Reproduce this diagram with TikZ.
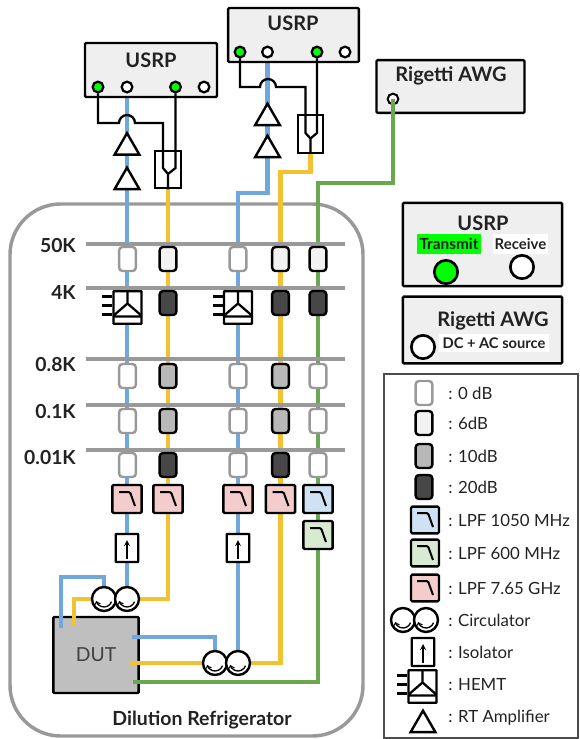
\documentclass[tikz,border=0pt]{standalone}
\usepackage{fontspec}
\setmainfont{Lato}
\usetikzlibrary{shapes.geometric}
\pgfdeclarelayer{back}
\pgfdeclarelayer{wires}
\pgfsetlayers{back,wires,main}
\definecolor{cableblue}{HTML}{6FA8DC}
\definecolor{cableyellow}{HTML}{F1C232}
\definecolor{cablegreen}{HTML}{6AA84F}
\definecolor{lpfpink}{HTML}{F4CCCC}
\definecolor{lpfblue}{HTML}{CFE2F3}
\definecolor{lpfgreen}{HTML}{D9EAD3}
\definecolor{panelgray}{HTML}{EFEFEF}
\definecolor{stagegray}{HTML}{999999}
\definecolor{inkgray}{HTML}{222222}
\tikzset{
instrument/.style={draw=black,fill=panelgray,line width=1.8pt,rounded corners=0.8pt,inner sep=0pt},
port/.style={circle,draw=black,fill=white,line width=1.7pt,minimum size=8pt,inner sep=0pt},
txport/.style={port,fill=green},
bigport/.style={port,minimum size=17.5pt,line width=2pt},
blueline/.style={cableblue,line width=3.6pt},
yellowline/.style={cableyellow,line width=3.6pt},
greenline/.style={cablegreen,line width=3.6pt},
blackline/.style={black,line width=1.7pt},
stage/.style={stagegray,line width=3pt},
stagelabel/.style={anchor=east,inner sep=0pt,text=inkgray,font=\bfseries\fontsize{14.5}{16}\selectfont},
heading/.style={inner sep=0pt,text=inkgray,font=\bfseries\fontsize{15}{17}\selectfont},
att/.style={rectangle,rounded corners=2.5pt,line width=1.8pt,minimum width=12.5pt,minimum height=18pt,inner sep=0pt},
attzero/.style={att,draw=stagegray,fill=white},
attsix/.style={att,draw=black,fill=black!5},
attten/.style={att,draw=black,fill=black!28},
atttwenty/.style={att,draw=black,fill=black!72},
lpf/.style={rectangle,draw=black,line width=1.8pt,rounded corners=1pt,minimum width=22pt,minimum height=21pt,inner sep=0pt,
path picture={\draw[black,line width=1.5pt,shift={(path picture bounding box.center)}] (-8,-7) -- (3,-7) -- (8,7);}},
isolator/.style={rectangle,draw=black,fill=white,line width=1.7pt,rounded corners=0.5pt,minimum width=17pt,minimum height=21pt,inner sep=0pt,
path picture={\draw[black,line width=1pt,-stealth,shift={(path picture bounding box.center)}] (0,11) -- (0,-8);}},
circulator/.style={circle,draw=black,fill=white,line width=1.8pt,minimum size=18pt,inner sep=0pt,
path picture={\draw[black,line width=1pt,->,shift={(path picture bounding box.center)}] (20:8) arc[start angle=20,end angle=165,radius=8];}},
amp/.style={regular polygon,regular polygon sides=3,draw=black,fill=white,line width=1.8pt,minimum size=21.5pt,inner sep=0pt},
splitter/.style={rectangle,draw=black,fill=white,line width=1.7pt,minimum width=19pt,minimum height=28pt,inner sep=0pt},
hemt/.style={rectangle,draw=black,fill=white,line width=1.7pt,rounded corners=0.5pt,minimum width=21pt,minimum height=24.5pt,inner sep=0pt,
path picture={\draw[black,line width=1.7pt,shift={(path picture bounding box.center)}] (0,-17) -- (0,-4) (-15,9) -- (0,-4) -- (15,9) (-15,9) -- (15,9);}},
legendtext/.style={anchor=west,inner sep=0pt,text=inkgray,font=\fontsize{12.6}{15}\selectfont}
}
\newcommand{\hemtstubs}[1]{\draw[blackline] (#1.west) ++(-10,-11) -- ++(10,0) ++(-10,9) -- ++(10,0) ++(-10,9) -- ++(10,0);}
\begin{document}
\begin{tikzpicture}[x=0.75pt,y=-0.75pt]
\useasboundingbox (0,0) rectangle (580,739);
\begin{pgfonlayer}{back}
\draw[stagegray,line width=2.6pt,rounded corners=38pt] (10,204) rectangle (363,736);
\node[rectangle,draw=black,fill=black!25,line width=1.8pt,rounded corners=0.8pt,minimum width=64pt,minimum height=57pt,inner sep=0pt,text=black!75,font=\fontsize{14.5}{16}\selectfont] (dut) at (96,655) {DUT};
\node[instrument,minimum width=111pt,minimum height=39.5pt] (awg) at (450.5,86.5) {};
\node[port,line width=1.5pt,minimum width=8pt,minimum height=6pt] (awgport) at (393,99) {};
\end{pgfonlayer}
\node[instrument,minimum width=99pt,minimum height=40.5pt] (usrpa) at (151,70) {};
\node[heading] (usrpatext) at (151,60) {USRP};
\node[txport] (txaa) at (98,87) {};
\node[port] (rxaa) at (127,87) {};
\node[txport] (txab) at (175.5,87) {};
\node[port] (rxab) at (204,87) {};
\node[instrument,minimum width=98pt,minimum height=40.5pt] (usrpb) at (293.5,35) {};
\node[heading] (usrpbtext) at (293,23) {USRP};
\node[txport] (txba) at (240,52) {};
\node[port] (rxba) at (267.5,52) {};
\node[txport] (txbb) at (317,52) {};
\node[port] (rxbb) at (345,52) {};
\node[heading] (awgtext) at (451,76) {Rigetti AWG};
\node[amp] (ampaa) at (127,147.5) {};
\node[amp] (ampab) at (127,182) {};
\node[amp] (ampba) at (267.5,118) {};
\node[amp] (ampbb) at (267.5,150) {};
\node[splitter] (splita) at (168,169.5) {};
\node[splitter] (splitb) at (310.5,134) {};
\coordinate (hopal) at (119,123);
\coordinate (hopbl) at (260,87);
\coordinate (forka) at (168,174);
\coordinate (forkb) at (310.5,138.5);
% stages
\draw[stage] (86,244) -- (345,244);
\draw[stage] (86,288) -- (345,288);
\draw[stage] (86,359) -- (345,359);
\draw[stage] (86,405) -- (345,405);
\draw[stage] (86,450) -- (345,450);
\node[stagelabel] (labfifty) at (76,246) {50K};
\node[stagelabel] (labfour) at (76,293) {4K};
\node[stagelabel] (labeight) at (76,365) {0.8K};
\node[stagelabel] (labone) at (76,412) {0.1K};
\node[stagelabel] (labcold) at (76,458) {0.01K};
% first row
\node[attzero] (atta) at (127.5,259) {};
\node[attsix] (attb) at (168,259) {};
\node[attzero] (attc) at (238,259) {};
\node[attsix] (attd) at (280.5,259) {};
\node[attsix] (atte) at (318,259) {};
\node[hemt] (hemta) at (127.5,307.5) {};
\node[atttwenty] (attf) at (168,303) {};
\node[hemt] (hemtb) at (238,307.5) {};
\node[atttwenty] (attg) at (280.5,303) {};
\node[atttwenty] (atth) at (318,303) {};
\hemtstubs{hemta}
\hemtstubs{hemtb}
\node[attzero] (atti) at (127.5,376) {};
\node[attten] (attj) at (168,376) {};
\node[attzero] (attk) at (238,376) {};
\node[attten] (attl) at (280.5,376) {};
\node[attzero] (attm) at (318,376) {};
\node[attzero] (attn) at (127.5,421) {};
\node[attten] (atto) at (168,421) {};
\node[attzero] (attp) at (238,421) {};
\node[attten] (attq) at (280.5,421) {};
\node[attzero] (attr) at (318,421) {};
\node[attzero] (atts) at (127.5,465) {};
\node[atttwenty] (attt) at (168,465) {};
\node[attzero] (attu) at (238,465) {};
\node[atttwenty] (attv) at (280.5,465) {};
\node[attzero] (attw) at (318,465) {};
\node[lpf,fill=lpfpink] (lpfa) at (127,499) {};
\node[lpf,fill=lpfpink] (lpfb) at (168,499) {};
\node[lpf,fill=lpfpink] (lpfc) at (238,499) {};
\node[lpf,fill=lpfpink] (lpfd) at (280.5,499) {};
\node[lpf,fill=lpfblue] (lpfe) at (318,499) {};
\node[lpf,fill=lpfgreen] (lpff) at (318,535) {};
\node[isolator] (isoa) at (127,548) {};
\node[isolator] (isob) at (238,548) {};
\node[circulator] (circaa) at (104,599) {};
\node[circulator] (circab) at (127,599) {};
\node[circulator] (circba) at (215,663) {};
\node[circulator] (circbb) at (238,663) {};
\node[inner sep=0pt,text=inkgray,font=\bfseries\fontsize{14.6}{16}\selectfont] (fridge) at (202,720) {Dilution Refrigerator};
\coordinate (bluebenda) at (61,577);
\coordinate (blueenda) at (61,628);
\coordinate (yellowenda) at (74,625);
\coordinate (blueendb) at (132,637);
\coordinate (yellowendb) at (129,663);
\coordinate (greenend) at (133,682);
\coordinate (bluebendb) at (238,193);
\coordinate (yellowbendb) at (280.5,172);
\coordinate (greenbend) at (318,183);
\begin{pgfonlayer}{wires}
\draw[blueline] (rxaa.center) -- (circab.center);
\draw[blueline] (circaa.center) |- (bluebenda) -- (blueenda);
\draw[yellowline] (yellowenda) |- (circaa.center);
\draw[yellowline] (circab.center) -| (splita.south);
\draw[blueline] (rxba.center) |- (bluebendb) -- (circbb.center);
\draw[yellowline] (splitb.south) |- (yellowbendb) -- (yellowbendb |- circbb) -- (circbb.center);
\draw[blueline] (blueendb) -| (circba.center);
\draw[yellowline] (yellowendb) -- (circba.center);
\draw[greenline] (awgport.center) |- (greenbend) |- (greenend);
\end{pgfonlayer}
\draw[blackline] (txaa.south) |- (hopal) arc[start angle=180,end angle=360,radius=8] -| (163,168) -- (forka) -- (forka |- splita.south);
\draw[blackline] (txab.south) -- (175.5,168) -- (forka);
\draw[blackline] (txba.south) |- (hopbl) arc[start angle=180,end angle=360,radius=8] -| (305.5,133) -- (forkb) -- (forkb |- splitb.south);
\draw[blackline] (txbb.south) -- (317,133) -- (forkb);
% key panels
\node[instrument,minimum width=119.5pt,minimum height=62.5pt] (keyusrp) at (482.5,244.5) {};
\node[heading] (keyusrptext) at (483,223) {USRP};
\node[fill=green,minimum width=48pt,minimum height=15pt,inner sep=0pt,text=inkgray,font=\bfseries\fontsize{11.5}{13}\selectfont] (keytx) at (449,244) {Transmit};
\node[fill=white,minimum width=41pt,minimum height=15pt,inner sep=0pt,text=inkgray,font=\bfseries\fontsize{11.2}{13}\selectfont] (keyrx) at (520.5,244) {Receive};
\node[bigport,fill=green] (keytxport) at (446,272) {};
\node[bigport] (keyrxport) at (522,267) {};
\node[instrument,minimum width=119.5pt,minimum height=50pt] (keyawg) at (482.5,330) {};
\node[heading] (keyawgtext) at (493,321) {Rigetti AWG};
\node[fill=white,minimum width=82pt,minimum height=14pt,inner sep=0pt,text=inkgray,font=\bfseries\fontsize{11}{13}\selectfont] (keydc) at (494,343) {DC + AC source};
\node[bigport] (keyawgport) at (423,347) {};
% legend
\draw[black!70,line width=1pt] (384,374) rectangle (578,738);
\node[attzero] (legzero) at (424,393) {};
\node[legendtext] (legzerotext) at (448,393) {: 0 dB};
\node[attsix] (legsix) at (424,423) {};
\node[legendtext] (legsixtext) at (448,423) {: 6dB};
\node[attten] (legten) at (424,456) {};
\node[legendtext] (legtentext) at (448,456) {: 10dB};
\node[atttwenty] (legtwenty) at (424,487) {};
\node[legendtext] (legtwentytext) at (448,487) {: 20dB};
\node[lpf,fill=lpfblue,minimum width=21pt,minimum height=20pt] (legblue) at (425,520) {};
\node[legendtext] (legbluetext) at (448,520) {: LPF 1050 MHz};
\node[lpf,fill=lpfgreen,minimum width=21pt,minimum height=20pt] (leggreen) at (425,553) {};
\node[legendtext] (leggreentext) at (448,553) {: LPF 600 MHz};
\node[lpf,fill=lpfpink,minimum width=21pt,minimum height=20pt] (legpink) at (425,588) {};
\node[legendtext] (legpinktext) at (448,588) {: LPF 7.65 GHz};
\node[circulator] (legcirca) at (403,620) {};
\node[circulator] (legcircb) at (426,620) {};
\node[legendtext] (legcirctext) at (448,620) {: Circulator};
\node[isolator] (legiso) at (423,652) {};
\node[legendtext] (legisotext) at (448,652) {: Isolator};
\node[hemt] (leghemt) at (422.5,686.5) {};
\hemtstubs{leghemt}
\node[legendtext] (leghemttext) at (448,685) {: HEMT};
\node[amp] (legamp) at (423,725) {};
\node[legendtext] (legamptext) at (448,718) {: RT Amplifier};
\end{tikzpicture}
\end{document}
